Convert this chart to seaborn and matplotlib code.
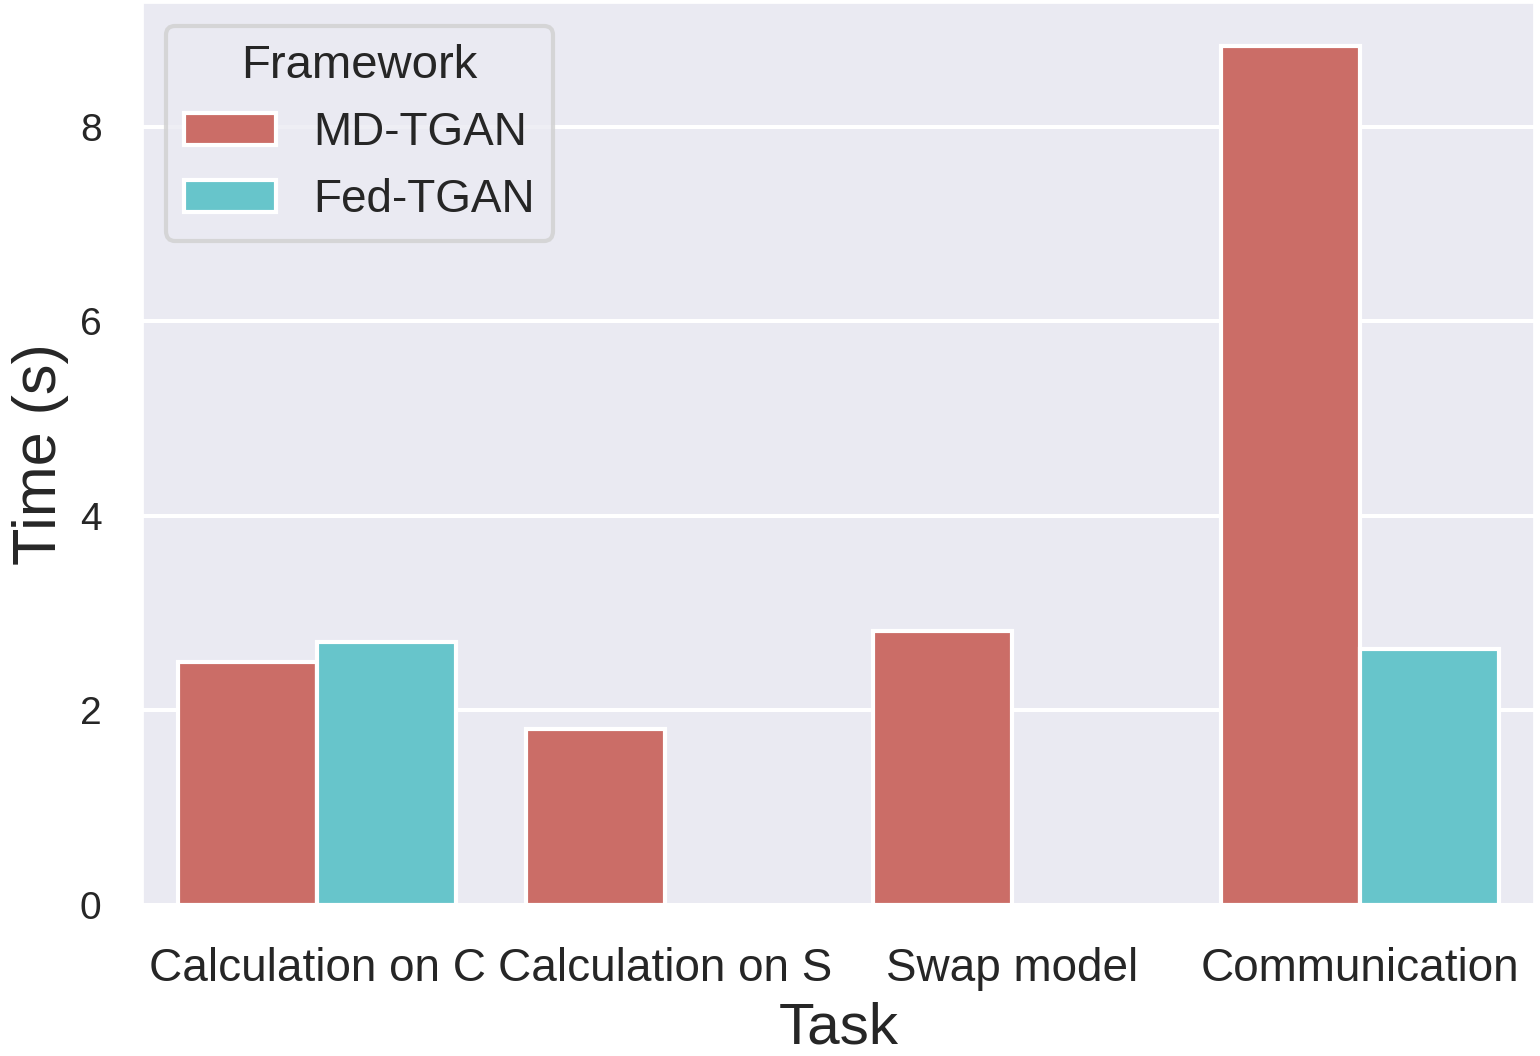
import numpy as np
import pandas as pd
import seaborn as sns
from matplotlib import pyplot as plt

tasks = ['Calculation on C', 'Calculation on S', 'Swap model', 'Communication']
frameworks = ['MD-TGAN', 'Fed-TGAN']
md_tgan = [2.50, 1.81, 2.82, 8.83]
fed_tgan = [2.70, np.nan, np.nan, 2.63]

df = pd.DataFrame({
    'Task': tasks * 2,
    'Framework': [frameworks[0]] * 4 + [frameworks[1]] * 4,
    'Time (s)': md_tgan + fed_tgan,
})

sns.set_theme(style='darkgrid', rc={'grid.linewidth': 2.9})
plt.rcParams['font.family'] = ['Liberation Sans', 'DejaVu Sans']

f, ax = plt.subplots(figsize=(15.4, 10.56), dpi=100)
sns.barplot(data=df, x='Task', y='Time (s)', hue='Framework', palette='hls',
            edgecolor='white', linewidth=3, ax=ax)

ax.set_xlabel('Task', fontsize=42, labelpad=8)
ax.set_ylabel('Time (s)', fontsize=44, labelpad=8)
ax.tick_params(axis='x', labelsize=33, pad=24)
ax.tick_params(axis='y', labelsize=28, pad=24)

leg = ax.legend(title='Framework', loc='upper left', fontsize=33, title_fontsize=34,
                frameon=True)
leg.get_frame().set_linewidth(3)
leg.get_frame().set_edgecolor('#d0d0d0')

plt.subplots_adjust(left=0.093, right=0.996, top=0.997, bottom=0.143)
plt.savefig('out.png')
